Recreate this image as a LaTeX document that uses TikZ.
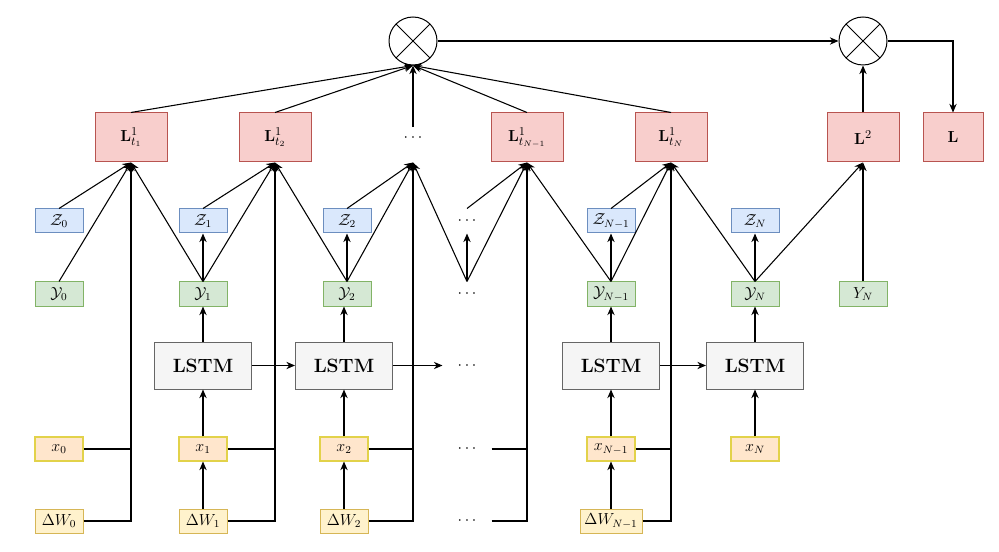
\documentclass[tikz,border=0pt]{standalone}
\usetikzlibrary{arrows.meta}
\definecolor{pinkF}{HTML}{F8CECC}\definecolor{pinkD}{HTML}{B85450}
\definecolor{blueF}{HTML}{DAE8FC}\definecolor{blueD}{HTML}{6C8EBF}
\definecolor{greenF}{HTML}{D5E8D4}\definecolor{greenD}{HTML}{82B366}
\definecolor{xF}{HTML}{FFE6CC}\definecolor{xD}{HTML}{E2D24A}
\definecolor{wF}{HTML}{FFF2CC}\definecolor{wD}{HTML}{D6B656}
\definecolor{lF}{HTML}{F5F5F5}\definecolor{lD}{HTML}{666666}
\tikzset{
  box/.style={rectangle, line width=0.75pt, inner sep=1pt, font=\fontsize{11.5}{13}\selectfont},
  small/.style={box, minimum width=36pt, minimum height=18pt},
  lbox/.style={box, fill=pinkF, draw=pinkD, minimum width=54pt, minimum height=36.75pt, font=\fontsize{12.5}{14}\selectfont},
  zbox/.style={small, fill=blueF, draw=blueD},
  ybox/.style={small, fill=greenF, draw=greenD},
  xbox/.style={small, fill=xF, draw=xD, line width=0.8pt},
  wbox/.style={small, fill=wF, draw=wD},
  lstm/.style={box, fill=lF, draw=lD, minimum width=72.75pt, minimum height=35.25pt, font=\fontsize{14.4}{17}\bfseries},
  dotsn/.style={small},
  mul/.style={circle, draw, line width=0.75pt, minimum size=36pt, inner sep=0pt,
    path picture={\draw[line width=0.75pt] (path picture bounding box.north west) -- (path picture bounding box.south east)
      (path picture bounding box.north east) -- (path picture bounding box.south west);}},
  arr/.style={-{Stealth[length=6.5pt,width=5.5pt]}, line width=0.8pt},
  ln/.style={line width=0.8pt}
}
\begin{document}
\begin{tikzpicture}[x=0.75pt,y=-0.75pt]
\useasboundingbox (0,0) rectangle (999,552);
% circles
\node[mul] (c1) at (413,41) {};
\node[mul] (c2) at (863,41) {};
% L row
\node[lbox] (L1) at (131,137.5) {$\mathbf{L}^1_{t_1}$};
\node[lbox] (L2) at (275,137.5) {$\mathbf{L}^1_{t_2}$};
\node[box, minimum width=54pt, minimum height=36.75pt] (Ld) at (413,137.5) {$\cdots$};
\node[lbox] (L3) at (527,137.5) {$\mathbf{L}^1_{t_{N-1}}$};
\node[lbox] (L4) at (671,137.5) {$\mathbf{L}^1_{t_N}$};
\node[lbox] (Lsq) at (863,137.5) {$\mathbf{L}^2$};
\node[lbox, minimum width=45pt] (Lt) at (953,137.5) {$\mathbf{L}$};
% Z row
\node[zbox] (z0) at (59,221) {$\mathcal{Z}_0$};
\node[zbox] (z1) at (203,221) {$\mathcal{Z}_1$};
\node[zbox] (z2) at (347,221) {$\mathcal{Z}_2$};
\node[dotsn] (zd) at (467,221) {$\cdots$};
\node[zbox] (z3) at (611,221) {$\mathcal{Z}_{N-1}$};
\node[zbox] (z4) at (755,221) {$\mathcal{Z}_N$};
% Y row
\node[ybox] (y0) at (59,294) {$\mathcal{Y}_0$};
\node[ybox] (y1) at (203,294) {$\mathcal{Y}_1$};
\node[ybox] (y2) at (347,294) {$\mathcal{Y}_2$};
\node[dotsn] (yd) at (467,294) {$\cdots$};
\node[ybox] (y3) at (611,294) {$\mathcal{Y}_{N-1}$};
\node[ybox] (y4) at (755,294) {$\mathcal{Y}_N$};
\node[ybox] (yc) at (863,294) {$Y_N$};
% LSTM row
\node[lstm] (s1) at (203,365.5) {LSTM};
\node[lstm] (s2) at (344,365.5) {LSTM};
\node[dotsn] (sd) at (467,365.5) {$\cdots$};
\node[lstm] (s3) at (611,365.5) {LSTM};
\node[lstm] (s4) at (755,365.5) {LSTM};
% x row
\node[xbox] (x0) at (59,449) {$x_0$};
\node[xbox] (x1) at (203,449) {$x_1$};
\node[xbox] (x2) at (344,449) {$x_2$};
\node[dotsn] (xd) at (467,449) {$\cdots$};
\node[xbox] (x3) at (611,449) {$x_{N-1}$};
\node[xbox] (x4) at (755,449) {$x_N$};
% dW row
\node[wbox] (w0) at (59,521) {$\Delta W_0$};
\node[wbox] (w1) at (203,521) {$\Delta W_1$};
\node[wbox] (w2) at (344,521) {$\Delta W_2$};
\node[dotsn] (wd) at (467,521) {$\cdots$};
\node[wbox, minimum width=46.5pt] (w3) at (611,521) {$\Delta W_{N-1}$};
% top connections
\foreach \n in {L1,L2,L3,L4} \draw[arr] (\n.north) -- (c1.south);
\draw[arr, shorten <=-11pt] (Ld.north) -- (c1.south);
\draw[arr] (c1.east) -- (c2.west);
\draw[arr] (Lsq.north) -- (c2.south);
\draw[arr] (c2.east) -| (Lt.north);
% into L boxes
\draw[arr] (z0.north) -- (L1.south);
\draw[arr] (y0.north) -- (L1.south);
\draw[arr] (y1.north) -- (L1.south);
\draw[arr] (z1.north) -- (L2.south);
\draw[arr] (y1.north) -- (L2.south);
\draw[arr] (y2.north) -- (L2.south);
\draw[arr] (z2.north) -- (Ld.south);
\draw[arr] (y2.north) -- (Ld.south);
\draw[arr] (yd.north) -- (Ld.south);
\draw[arr] (zd.north) -- (L3.south);
\draw[arr] (yd.north) -- (L3.south);
\draw[arr] (y3.north) -- (L3.south);
\draw[arr] (z3.north) -- (L4.south);
\draw[arr] (y3.north) -- (L4.south);
\draw[arr] (y4.north) -- (L4.south);
\draw[arr] (y4.north) -- (Lsq.south);
\draw[arr] (yc.north) -- (Lsq.south);
% Y -> Z
\foreach \a/\b in {y1/z1,y2/z2,yd/zd,y3/z3,y4/z4} \draw[arr] (\a.north) -- (\b.south);
% LSTM -> Y
\foreach \a/\b in {s1/y1,s3/y3,s4/y4} \draw[arr] (\a.north) -- (\b.south);
\draw[arr] (s2.north) -- (s2.north |- y2.south);
% LSTM chain
\draw[arr] (s1.east) -- (s2.west);
\draw[arr] (s2.east) -- (sd.west);
\draw[arr] (s3.east) -- (s4.west);
% x -> LSTM
\foreach \a/\b in {x1/s1,x2/s2,x3/s3,x4/s4} \draw[arr] (\a.north) -- (\b.south);
% dW -> x
\foreach \a/\b in {w1/x1,w2/x2,w3/x3} \draw[arr] (\a.north) -- (\b.south);
% skip connections to L boxes
\draw[arr] (w0.east) -| (L1.south);
\draw[ln] (x0.east) -- (x0.east -| L1.south);
\draw[arr] (w1.east) -| (L2.south);
\draw[ln] (x1.east) -- (x1.east -| L2.south);
\draw[arr] (w2.east) -| (Ld.south);
\draw[ln] (x2.east) -- (x2.east -| Ld.south);
\draw[arr] (wd.east) -| (L3.south);
\draw[ln] (xd.east) -- (xd.east -| L3.south);
\draw[arr] (w3.east) -| (L4.south);
\draw[ln] (x3.east) -- (x3.east -| L4.south);
\end{tikzpicture}
\end{document}
